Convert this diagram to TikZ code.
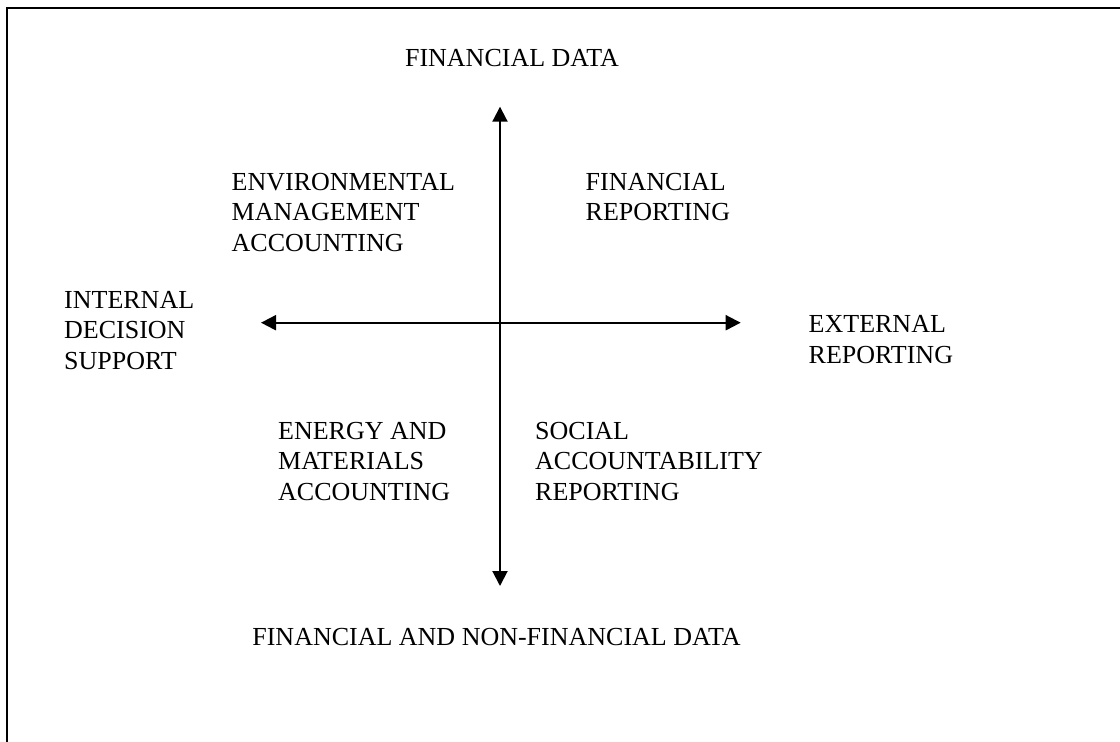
\documentclass[tikz,border=0pt]{standalone}
\usepackage{fontspec}
\setmainfont{Liberation Serif}
\usetikzlibrary{arrows.meta}
\begin{document}
\begin{tikzpicture}[x=1pt,y=-1pt,
  lbl/.style={inner sep=0pt,align=left,font=\fontsize{26}{30.7}\selectfont},
  axis/.style={line width=2pt,{Triangle[length=15pt,width=15pt]}-{Triangle[length=15pt,width=15pt]}},
  frame/.style={line width=2pt}]
\useasboundingbox (0,0) rectangle (1120,742);
\coordinate (tl) at (7,7.5);
\coordinate (tr) at (1120,7.5);
\coordinate (bl) at (7,742);
\draw[frame] (tr) -- (tl) -- (bl);
\coordinate (top) at (500,106.7);
\coordinate (bot) at (500,586);
\coordinate (lft) at (261,322.7);
\coordinate (rgt) at (740.7,322.7);
\draw[axis] (top) -- (bot);
\draw[axis] (lft) -- (rgt);
\node[lbl,anchor=base] (fd) at (512,66.5) {FINANCIAL DATA};
\node[lbl,anchor=base] (fnd) at (496.5,645) {FINANCIAL AND NON-FINANCIAL DATA};
\node[lbl,anchor=base west] (ema) at (231.5,251.4) {ENVIRONMENTAL\\MANAGEMENT\\ACCOUNTING};
\node[lbl,anchor=base west] (fr) at (585.5,220.7) {FINANCIAL\\REPORTING};
\node[lbl,anchor=base west] (ids) at (64,369.4) {INTERNAL\\DECISION\\SUPPORT};
\node[lbl,anchor=base west] (er) at (808.5,363.4) {EXTERNAL\\REPORTING};
\node[lbl,anchor=base west] (ema2) at (278,500.4) {ENERGY AND\\MATERIALS\\ACCOUNTING};
\node[lbl,anchor=base west] (sar) at (535,500.4) {SOCIAL\\ACCOUNTABILITY\\REPORTING};
\end{tikzpicture}
\end{document}
